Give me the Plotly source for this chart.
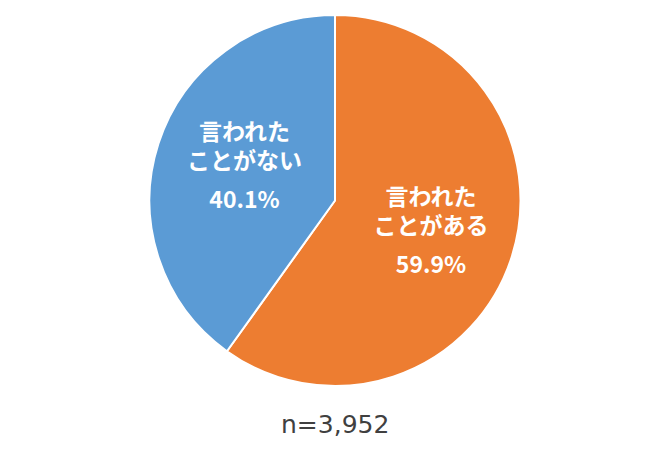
import plotly.graph_objects as go

line1 = ["言われた", "言われた"]
line2 = ["ことがある", "ことがない"]
values = [59.9, 40.1]
colors = ["#ED7D31", "#5B9BD5"]
note = "n=3,952"

W, H = 669, 459
S = "<span style='font-size:23px'>{}<b>{}</b></span>"
lead = ["&nbsp;&nbsp;&nbsp;", ""]
pads = ["", "<br><br>&nbsp;"]
texts = [
    S.format(l, a) + "<br><br><br>" + S.format(l, b) + "<br><br><br><br>"
    + S.format(l, f"{v:.1f}%") + p
    for a, b, v, l, p in zip(line1, line2, values, lead, pads)
]

fig = go.Figure()
fig.add_trace(go.Pie(
    labels=[a + b for a, b in zip(line1, line2)],
    values=values,
    text=texts,
    sort=False,
    direction="clockwise",
    rotation=0,
    marker=dict(colors=colors, line=dict(color="white", width=2)),
    texttemplate="%{text}",
    textposition="inside",
    insidetextorientation="horizontal",
    textfont=dict(family="Noto Sans CJK JP", size=7.5, color="white"),
    hoverinfo="skip",
    showlegend=False,
    domain=dict(x=[149 / W, 521 / W], y=[(H - 386) / H, (H - 15) / H]),
))
fig.add_annotation(
    text=note, x=0.5, y=(H - 424) / H, xref="paper", yref="paper",
    showarrow=False, font=dict(family="DejaVu Sans", size=25, color="#404040"),
    xanchor="center", yanchor="middle",
)
fig.update_layout(
    width=W, height=H,
    margin=dict(l=0, r=0, t=0, b=0),
    paper_bgcolor="white", plot_bgcolor="white",
    uniformtext=dict(minsize=7, mode="show"),
)
fig.write_html("out.html", post_script="document.body.style.margin='0px';",
               config={"displayModeBar": False})
